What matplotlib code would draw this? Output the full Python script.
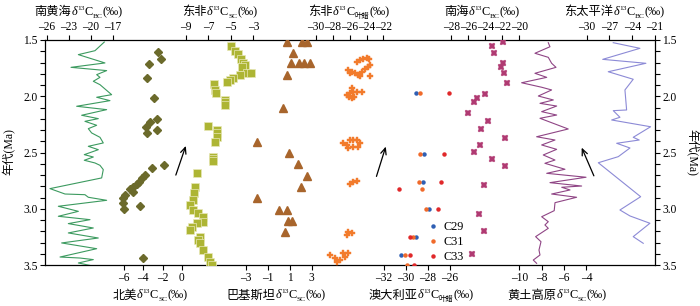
import matplotlib
matplotlib.use('Agg')
import matplotlib.pyplot as plt
from matplotlib.ticker import MultipleLocator, FixedLocator, FuncFormatter
from matplotlib.transforms import IdentityTransform

plt.rcParams['font.family'] = ['Liberation Serif', 'Noto Sans CJK SC']
plt.rcParams['axes.unicode_minus'] = False

# ---------------- data ----------------
age_ticks = [1.5, 2.0, 2.5, 3.0, 3.5]

# 南黄海 δ13C_BC (line)
sys_age = [1.518, 1.595, 1.630, 1.704, 1.743, 1.772, 1.808, 1.832, 1.867, 1.897,
           1.986, 2.009, 2.039, 2.089, 2.119, 2.169, 2.199, 2.223, 2.258, 2.288,
           2.326, 2.365, 2.415, 2.445, 2.475, 2.519, 2.540, 2.569, 2.593, 2.614,
           2.652, 2.726, 2.821, 2.869, 2.875, 2.898, 2.925, 2.978, 3.023, 3.067,
           3.097, 3.132, 3.171, 3.215, 3.260, 3.304, 3.355, 3.429, 3.438, 3.452,
           3.482, 3.510]
sys_val = [-18.19, -19.46, -21.73, -18.10, -22.73, -17.87, -19.23, -18.78, -19.69, -18.78,
           -17.19, -19.23, -17.42, -21.96, -17.87, -21.28, -19.01, -20.83, -19.23, -20.37,
           -19.92, -18.78, -18.33, -20.37, -19.01, -20.92, -19.69, -20.92, -19.46, -18.78,
           -18.33, -18.55, -25.60, -23.55, -20.83, -20.37, -17.87, -24.46, -21.73, -24.46,
           -20.14, -23.10, -19.69, -23.10, -19.01, -24.01, -19.23, -24.23, -21.51, -19.69,
           -21.73, -19.69]
sys_ticks = [-26, -23, -20, -17]

# 北美 δ13C_SC (diamonds)
na_age = [1.604, 1.672, 1.716, 1.840, 2.013, 2.205, 2.232, 2.271, 2.300, 2.329,
          2.611, 2.635, 2.700, 2.729, 2.760, 2.780, 2.804, 2.827, 2.854, 2.878,
          2.907, 2.946, 2.973, 3.005, 3.440]
na_val = [-2.44, -2.19, -3.38, -3.65, -2.89, -2.61, -3.30, -3.72, -2.54, -3.65,
          -1.84, -3.13, -3.82, -4.17, -4.42, -4.69, -5.04, -5.39, -5.10, -5.91,
          -6.08, -6.08, -4.34, -6.01, -4.00]
na_ticks = [-6, -4, -2, 0]

# 东非 δ13C_SC (squares)
easc_age = [1.553, 1.595, 1.624, 1.669, 1.707, 1.722, 1.737, 1.791, 1.791, 1.811,
            1.840, 1.856, 1.871, 1.891, 1.944, 1.974, 2.033, 2.055, 2.078, 2.264,
            2.300, 2.330, 2.360, 2.404, 2.537, 2.555, 2.573, 2.685, 2.804, 2.863,
            2.922, 2.967, 3.011, 3.040, 3.071, 3.115, 3.129, 3.160, 3.189, 3.248,
            3.278, 3.307, 3.367, 3.426, 3.471, 3.500]
easc_val = [-5.00, -4.64, -4.35, -4.14, -3.91, -3.76, -4.05, -3.60, -3.25, -4.20,
            -4.80, -5.09, -5.38, -6.51, -6.42, -6.33, -5.53, -5.53, -5.53, -7.02,
            -6.22, -6.25, -6.27, -6.42, -6.57, -6.57, -6.57, -8.05, -8.20, -8.29,
            -8.35, -8.64, -8.35, -7.91, -7.46, -7.46, -8.05, -8.49, -8.64, -7.76,
            -7.94, -7.76, -7.46, -7.02, -6.87, -6.72]
easc_ticks = [-9, -7, -5, -3]

# 巴基斯坦 δ13C_SC (triangles)
pk_age = [1.515, 1.515, 1.515, 1.613, 1.707, 1.707, 1.707, 1.707, 1.811, 2.107,
          2.404, 2.507, 2.605, 2.706, 2.804, 2.907, 3.011, 3.011, 3.106, 3.106, 3.204]
pk_val = [0.78, 2.09, 2.60, 1.33, 1.09, 1.82, 2.33, 2.85, 0.78, 0.42,
          -2.00, 0.96, 1.73, 2.55, 2.03, -2.00, 0.05, 0.73, 0.87, 1.21, 0.57]
pk_ticks = [-3, -1, 1, 3]

# 东非 δ13C_叶蜡 (plus)
eaw_age = [1.693, 1.678, 1.672, 1.663, 1.672, 1.767, 1.782, 1.796, 1.811, 1.796,
           1.782, 1.760, 1.737, 1.722, 1.820, 1.820, 1.929, 1.960, 1.960, 1.960,
           1.989, 2.004, 2.018, 2.004, 1.974, 2.418, 2.433, 2.389, 2.389, 2.389,
           2.418, 2.448, 2.454, 2.463, 2.780, 2.765, 2.751, 3.204, 3.218, 3.233,
           3.411, 3.440, 3.456, 3.426, 3.396, 3.471, 3.396]
eaw_val = [-25.17, -24.77, -24.38, -23.98, -23.67, -26.16, -25.76, -25.37, -24.98, -25.96,
           -24.57, -24.18, -23.79, -23.59, -23.59, -24.77, -25.76, -25.57, -25.17, -24.57,
           -26.35, -26.05, -25.76, -25.49, -25.96, -26.76, -26.35, -25.96, -25.57, -25.17,
           -24.77, -24.98, -25.57, -26.16, -25.96, -25.57, -25.17, -26.16, -25.76, -26.35,
           -28.34, -27.74, -27.15, -26.56, -26.76, -27.54, -26.16]
eaw_ticks = [-30, -28, -26, -24, -22]

# 澳大利亚 δ13C_叶蜡 (dots)
c29_age = [1.974, 2.513, 2.760, 3.005, 3.254, 3.411]
c29_val = [-29.09, -28.36, -28.43, -27.88, -29.09, -30.48]
c31_age = [1.974, 2.513, 2.760, 2.822, 3.005, 3.254, 3.411, 3.500]
c31_val = [-28.73, -28.73, -28.79, -28.57, -28.21, -29.39, -30.09, -29.94]
c33_age = [1.974, 2.513, 2.760, 2.822, 3.005, 3.254, 3.411, 3.500]
c33_val = [-26.06, -26.55, -26.85, -30.61, -27.06, -29.64, -29.64, -29.25]
au_ticks = [-32, -30, -28, -26]

# 南海 δ13C_BC (X)
scs_age = [1.515, 1.553, 1.613, 1.707, 1.737, 1.791, 1.885, 1.980, 2.018, 2.048,
           2.152, 2.217, 2.291, 2.374, 2.433, 2.498, 2.558, 2.620, 2.789, 3.047,
           3.195, 3.402]
scs_val = [-21.95, -23.25, -22.98, -21.95, -22.19, -21.80, -21.41, -24.04, -25.01, -25.33,
           -26.07, -23.72, -24.54, -21.68, -24.62, -25.33, -23.25, -21.68, -24.15, -24.74,
           -24.15, -25.60]
scs_ticks = [-28, -26, -24, -22, -20]

# 黄土高原 δ13C_SC (line)
lp_age = [1.524, 1.560, 1.618, 1.654, 1.707, 1.743, 1.796, 1.832, 1.880, 1.920,
          1.944, 1.998, 2.033, 2.063, 2.087, 2.137, 2.167, 2.196, 2.291, 2.360,
          2.389, 2.433, 2.472, 2.522, 2.567, 2.596, 2.649, 2.685, 2.720, 2.768,
          2.798, 2.809, 2.833, 2.869, 2.898, 2.946, 3.017, 3.071, 3.115, 3.144,
          3.174, 3.248, 3.293, 3.367, 3.411, 3.456, 3.485]
lp_val = [-7.41, -7.26, -8.60, -7.41, -7.11, -6.72, -8.60, -7.55, -9.79, -8.00,
          -7.11, -8.30, -6.96, -8.15, -6.66, -8.00, -6.66, -8.15, -5.63, -8.45,
          -6.81, -8.00, -6.66, -7.86, -6.81, -7.71, -5.92, -7.55, -4.04, -7.26,
          -4.43, -6.21, -5.47, -7.11, -4.88, -6.81, -6.88, -8.00, -7.41, -7.71,
          -7.41, -8.54, -8.06, -8.24, -8.15, -8.75, -8.45]
lp_ticks = [-10, -8, -6, -4]

# 东太平洋 δ13C_BC (line)
ep_age = [1.524, 1.574, 1.672, 1.707, 1.782, 1.849, 1.944, 2.122, 2.128, 2.187,
          2.211, 2.271, 2.365, 2.389, 2.418, 2.460, 2.537, 2.591, 2.893, 3.011,
          3.064, 3.129, 3.248, 3.307]
ep_val = [-26.50, -22.99, -27.89, -22.20, -27.16, -23.87, -24.96, -24.74, -26.50, -25.62,
          -26.71, -21.58, -23.87, -23.08, -26.05, -24.30, -25.84, -28.47, -22.89, -25.62,
          -24.30, -21.67, -23.87, -22.55]
ep_ticks = [-30, -27, -24, -21]

# ---------------- layout ----------------
W, H = 700, 306
fig = plt.figure(figsize=(W / 100, H / 100), dpi=100)
L, R, T, B = 45, 655, 40, 265
pos = [L / W, 1 - B / H, (R - L) / W, (B - T) / H]
TFS = 8.3

main = fig.add_axes(pos)
main.set_xlim(0, 1)
main.set_ylim(3.5, 1.5)
main.set_xticks([])
main.yaxis.set_major_locator(FixedLocator(age_ticks))
main.yaxis.set_minor_locator(MultipleLocator(0.1))
main.yaxis.set_major_formatter(FuncFormatter(lambda v, p: f'{v:.1f}'))
main.tick_params(axis='y', which='both', direction='out', left=True, right=True,
                 labelleft=True, labelright=True, length=3.6, width=0.8,
                 labelsize=TFS, pad=1.5)
for s in main.spines.values():
    s.set_linewidth(0.9)

fmt = FuncFormatter(lambda v, p: f'{v:g}'.replace('-', '\u2013'))


def overlay(xlim, ticks, side):
    ax = fig.add_axes(pos, sharey=main)
    ax.set_frame_on(False)
    ax.patch.set_visible(False)
    ax.set_xlim(*xlim)
    ax.tick_params(axis='y', which='both', left=False, right=False,
                   labelleft=False, labelright=False)
    ax.xaxis.set_ticks_position(side)
    ax.set_xticks(ticks)
    ax.xaxis.set_major_formatter(fmt)
    ax.tick_params(axis='x', direction='out', length=3.6, width=0.8,
                   labelsize=TFS, pad=1.5)
    return ax


ax_sys = overlay((-26.28, 56.94), sys_ticks, 'top')
ax_easc = overlay((-21.53, 32.69), easc_ticks, 'top')
ax_eaw = overlay((-62.19, 10.26), eaw_ticks, 'top')
ax_scs = overlay((-75.80, -4.04), scs_ticks, 'top')
ax_ep = overlay((-101.37, -21.0), ep_ticks, 'top')
ax_na = overlay((-14.24, 49.30), na_ticks, 'bottom')
ax_pk = overlay((-21.25, 34.21), pk_ticks, 'bottom')
ax_au = overlay((-62.82, -7.36), au_ticks, 'bottom')
ax_lp = overlay((-52.35, 2.12), lp_ticks, 'bottom')

ax_sys.plot(sys_val, sys_age, color='#3c9a5f', lw=0.8)
ax_na.plot(na_val, na_age, ls='none', marker='D', ms=4.3, color='#6b6a2b', mec='#6b6a2b')
ax_easc.plot(easc_val, easc_age, ls='none', marker='s', ms=5.4, color='#adb534',
             mec='#e8e8b8', mew=0.5)
ax_pk.plot(pk_val, pk_age, ls='none', marker='^', ms=5.2, color='#a8652c', mec='#a8652c')
ax_eaw.plot(eaw_val, eaw_age, ls='none', marker='P', ms=5.0, color='#f27b2c', mec='#f27b2c',
            mew=0.3)
ax_au.plot(c29_val, c29_age, ls='none', marker='o', ms=2.2, color='#2f5fb3', label='C29')
ax_au.plot(c31_val, c31_age, ls='none', marker='o', ms=2.2, color='#f06a2a', label='C31')
ax_au.plot(c33_val, c33_age, ls='none', marker='o', ms=2.2, color='#e0282a', label='C33')
ax_scs.plot(scs_val, scs_age, ls='none', marker='X', ms=5.0, color='#b03a72', mec='#b03a72',
            mew=0.3)
ax_lp.plot(lp_val, lp_age, color='#8f4585', lw=0.8)
ax_ep.plot(ep_val, ep_age, color='#8c8ad6', lw=0.8)

ax_au.legend(loc='upper left', bbox_to_anchor=(0.628, 0.195), frameon=False,
             fontsize=8.8, handlelength=0.8, handletextpad=0.5, labelspacing=0.25,
             borderpad=0, borderaxespad=0)

# arrows
arrow_kw = dict(arrowstyle='->,head_length=0.45,head_width=0.2', color='black', lw=0.9)
main.annotate('', xy=(0.2323, 0.541), xytext=(0.213, 0.388), xycoords='axes fraction',
              arrowprops=arrow_kw)
main.annotate('', xy=(0.560, 0.538), xytext=(0.542, 0.382), xycoords='axes fraction',
              arrowprops=arrow_kw)
main.annotate('', xy=(0.878, 0.533), xytext=(0.9016, 0.385), xycoords='axes fraction',
              arrowprops=arrow_kw)

# rich labels
renderer = fig.canvas.get_renderer()
FS = 8.8
SERIF = ['Liberation Serif', 'DejaVu Serif']
CJK = ['Noto Sans CJK SC']


def rich(xc, yb, pieces):
    made = []
    for s, kind in pieces:
        size, dy, fam, style = FS, 0.0, SERIF, 'normal'
        if kind == 'cjk':
            fam = CJK
        elif kind == 'it':
            style = 'italic'
        elif kind == 'sup':
            size, dy = FS * 0.6, FS * 0.42
        elif kind == 'sub':
            size, dy = FS * 0.6, -FS * 0.22
        elif kind == 'subcjk':
            size, dy, fam = FS * 0.6, -FS * 0.22, CJK
        t = fig.text(0, 0, s, fontsize=size, family=fam, style=style,
                     ha='left', va='baseline', transform=IdentityTransform())
        made.append((t, dy))
    widths = [t.get_window_extent(renderer).width for t, _ in made]
    x = xc - sum(widths) / 2
    for (t, dy), w in zip(made, widths):
        t.set_position((x, (H - yb) + dy * 100 / 72))
        x += w


def iso(name, sub, subkind='sub'):
    return [(name, 'cjk'), ('δ', 'it'), ('13', 'sup'), ('C', 'n'), (sub, subkind), ('(‰)', 'n')]


rich(78.8, 15, iso('南黄海', 'BC'))
rich(219.7, 15, iso('东非', 'SC'))
rich(348.8, 15, iso('东非', '叶蜡', 'subcjk'))
rich(482, 15, iso('南海', 'BC'))
rich(614.5, 15, iso('东太平洋', 'BC'))
rich(149.7, 298.5, iso('北美', 'SC'))
rich(276, 298.5, iso('巴基斯坦', 'SC'))
rich(421, 298.5, iso('澳大利亚', '叶蜡', 'subcjk'))
rich(557, 298.5, iso('黄土高原', 'SC'))

fig.text(9 / W, 1 - 152 / H, '年代(Ma)', rotation=90, ha='center', va='center', fontsize=8.5)
fig.text(692 / W, 1 - 152 / H, '年代(Ma)', rotation=-90, ha='center', va='center', fontsize=8.5)

fig.savefig('out.png', dpi=100)
